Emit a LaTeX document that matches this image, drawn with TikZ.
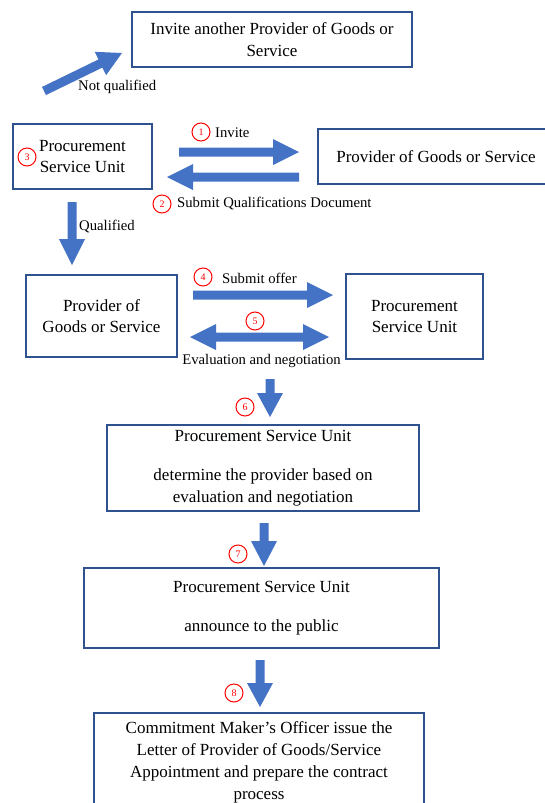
\documentclass[tikz,border=0pt]{standalone}
\usepackage{fontspec}
\setmainfont{Liberation Serif}
\usetikzlibrary{calc}
\definecolor{boxline}{HTML}{2F528F}
\definecolor{arrowblue}{HTML}{4472C4}
\definecolor{numred}{HTML}{FF0000}
\tikzset{
  box/.style={draw=boxline, line width=1.1pt, inner sep=0pt, align=center,
    font=\fontsize{17}{21.5}\selectfont},
  lbl/.style={inner sep=0pt, font=\fontsize{14.7}{17}\selectfont},
  num/.style={circle, draw=numred, line width=1pt, minimum size=18pt,
    inner sep=0pt, text=numred, font=\fontsize{10}{11}\selectfont},
  arrowfill/.style={fill=arrowblue}
}
% single block arrow: #1 tail, #2 tip, #3 head length (pt)
\newcommand{\blockarrow}[3]{%
  \coordinate (bac) at ($(#2)!#3pt!(#1)$);
  \fill[arrowfill] ($(#1)!4.5pt!90:(#2)$) -- ($(bac)!4.5pt!90:(#2)$)
    -- ($(bac)!13pt!90:(#2)$) -- (#2) -- ($(bac)!13pt!-90:(#2)$)
    -- ($(bac)!4.5pt!-90:(#2)$) -- ($(#1)!4.5pt!-90:(#2)$) -- cycle;
}
% double block arrow: #1 tip, #2 tip, #3 head length (pt)
\newcommand{\dblockarrow}[3]{%
  \coordinate (bca) at ($(#1)!#3pt!(#2)$);
  \coordinate (bcb) at ($(#2)!#3pt!(#1)$);
  \fill[arrowfill] (#1) -- ($(bca)!13pt!90:(#2)$) -- ($(bca)!4.5pt!90:(#2)$)
    -- ($(bcb)!4.5pt!-90:(#1)$) -- ($(bcb)!13pt!-90:(#1)$) -- (#2)
    -- ($(bcb)!13pt!90:(#1)$) -- ($(bcb)!4.5pt!90:(#1)$)
    -- ($(bca)!4.5pt!-90:(#2)$) -- ($(bca)!13pt!-90:(#2)$) -- cycle;
}
\begin{document}
\begin{tikzpicture}[x=1pt,y=-1pt]
\useasboundingbox (0,0) rectangle (545,803);

% boxes
\node[box, minimum width=280pt, minimum height=55pt] (inviteother) at (272,39.5)
  {Invite another Provider of Goods or\\Service};
\node[box, minimum width=139pt, minimum height=65pt] (psu1) at (82.5,156.5)
  {Procurement\\Service Unit};
\node[box, minimum width=236pt, minimum height=55pt] (prov1) at (436,156.5)
  {Provider of Goods or Service};
\node[box, minimum width=151pt, minimum height=82pt] (prov2) at (101.5,316)
  {Provider of\\Goods or Service};
\node[box, minimum width=137pt, minimum height=85pt] (psu2) at (414.5,316.5)
  {Procurement\\Service Unit};
\node[box, minimum width=312pt, minimum height=86pt, font=\fontsize{17}{22}\selectfont] (psu3) at (263,468)
  {Procurement Service Unit\\[17pt]determine the provider based on\\evaluation and negotiation};
\node[box, minimum width=355pt, minimum height=80pt, font=\fontsize{17}{22}\selectfont] (psu4) at (261.5,608)
  {Procurement Service Unit\\[17pt]announce to the public};
\node[box, minimum width=330pt, minimum height=98pt, font=\fontsize{17}{22}\selectfont] (ppk) at (259,762)
  {Commitment Maker’s Officer issue the\\Letter of Provider of Goods/Service\\Appointment and prepare the contract\\process};

% arrow end coordinates
\coordinate (nqA) at (44,91);   \coordinate (nqB) at (122,53);
\coordinate (invA) at (179,152); \coordinate (invB) at (299,152);
\coordinate (subA) at (299,177); \coordinate (subB) at (167,177);
\coordinate (qA) at (72,202);   \coordinate (qB) at (72,265);
\coordinate (offA) at (193,295); \coordinate (offB) at (333,295);
\coordinate (evA) at (190,337);  \coordinate (evB) at (329,337);
\coordinate (s6A) at (270,379);  \coordinate (s6B) at (270,417);
\coordinate (s7A) at (264,523);  \coordinate (s7B) at (264,566);
\coordinate (s8A) at (260,660);  \coordinate (s8B) at (260,707);

\blockarrow{nqA}{nqB}{24}
\blockarrow{invA}{invB}{26}
\blockarrow{subA}{subB}{26}
\blockarrow{qA}{qB}{26}
\blockarrow{offA}{offB}{26}
\dblockarrow{evA}{evB}{26}
\blockarrow{s6A}{s6B}{24}
\blockarrow{s7A}{s7B}{25}
\blockarrow{s8A}{s8B}{24}

% labels
\node[lbl, anchor=west] (lnq) at (78,87) {Not qualified};
\node[lbl, anchor=west] (linv) at (215,133) {Invite};
\node[lbl, anchor=west] (lsub) at (177,204) {Submit Qualifications Document};
\node[lbl, anchor=west] (lq) at (79,227) {Qualified};
\node[lbl, anchor=west] (loff) at (222,278) {Submit offer};
\node[lbl] (lev) at (261.5,361) {Evaluation and negotiation};

% step numbers
\node[num] (n1) at (201,132) {1};
\node[num] (n2) at (162,204) {2};
\node[num] (n3) at (27,157) {3};
\node[num] (n4) at (203,277) {4};
\node[num] (n5) at (255,321) {5};
\node[num] (n6) at (245,407) {6};
\node[num] (n7) at (238,554) {7};
\node[num] (n8) at (234,693) {8};
\end{tikzpicture}
\end{document}
